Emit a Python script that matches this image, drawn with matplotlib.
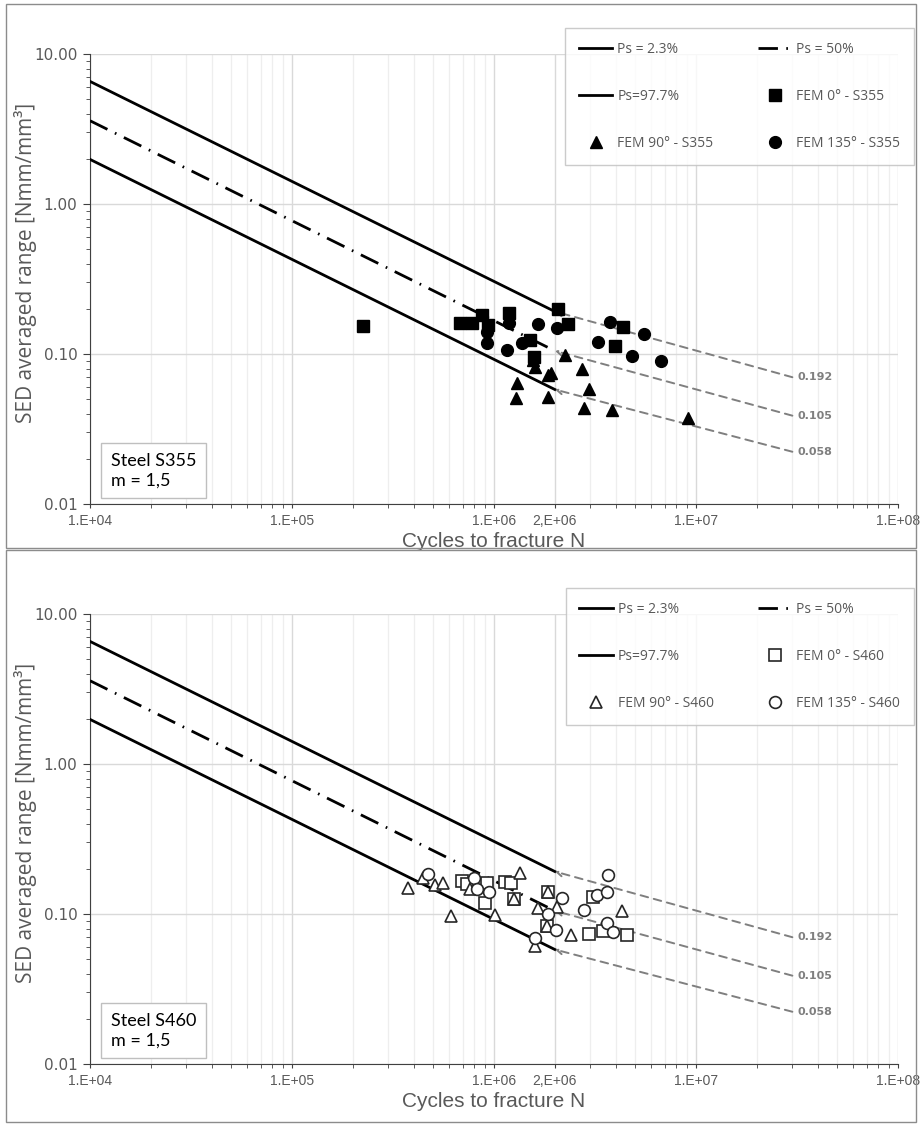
import numpy as np
import matplotlib
matplotlib.use("Agg")
import matplotlib.pyplot as plt
from matplotlib.patches import Rectangle
from matplotlib.ticker import FixedLocator, NullFormatter

# ---- data ----
m_slope = 1.5
N_ref = 2e6
design_vals = [0.192, 0.105, 0.058]   # Ps 2.3%, 50%, 97.7% at 2e6 cycles
label_tail_N = 3.0e7
label_tail_S = [0.070, 0.0388, 0.0223]

# S355
s355_0_N = [2.24e5, 6.8e5, 7.8e5, 8.7e5, 1.18e6, 1.50e6, 1.58e6, 2.08e6, 2.33e6, 3.97e6, 4.37e6, 9.3e5]
s355_0_S = [0.154, 0.160, 0.160, 0.182, 0.187, 0.124, 0.096, 0.199, 0.158, 0.113, 0.152, 0.155]
s355_90_N = [1.29e6, 1.30e6, 1.56e6, 1.60e6, 1.86e6, 1.91e6, 1.86e6, 2.24e6, 2.73e6, 2.97e6, 2.79e6, 3.85e6, 9.16e6]
s355_90_S = [0.0507, 0.0644, 0.091, 0.0815, 0.0724, 0.075, 0.0519, 0.0985, 0.079, 0.058, 0.0438, 0.0423, 0.0373]
s355_135_N = [9.27e5, 9.27e5, 1.16e6, 1.19e6, 1.37e6, 1.66e6, 2.04e6, 3.28e6, 3.75e6, 4.81e6, 5.54e6, 6.71e6]
s355_135_S = [0.118, 0.140, 0.107, 0.162, 0.119, 0.158, 0.148, 0.121, 0.164, 0.097, 0.136, 0.090]

# S460
s460_0_N = [6.92e5, 7.33e5, 9.2e5, 9.02e5, 1.13e6, 1.22e6, 1.25e6, 1.86e6, 1.84e6, 3.08e6, 2.97e6, 3.45e6, 4.54e6]
s460_0_S = [0.167, 0.158, 0.160, 0.119, 0.164, 0.162, 0.125, 0.141, 0.083, 0.130, 0.0736, 0.0774, 0.0724]
s460_90_N = [3.77e5, 4.43e5, 5.1e5, 5.61e5, 6.1e5, 7.6e5, 1.01e6, 1.35e6, 1.25e6, 1.86e6, 1.66e6, 2.06e6, 1.84e6, 1.6e6, 2.40e6, 4.31e6]
s460_90_S = [0.148, 0.173, 0.156, 0.160, 0.097, 0.146, 0.098, 0.187, 0.125, 0.141, 0.109, 0.112, 0.083, 0.0612, 0.0724, 0.104]
s460_135_N = [4.73e5, 7.96e5, 8.26e5, 9.48e5, 2.16e6, 1.86e6, 2.03e6, 1.6e6, 2.79e6, 3.24e6, 3.61e6, 3.66e6, 3.64e6, 3.87e6]
s460_135_S = [0.184, 0.175, 0.146, 0.141, 0.127, 0.100, 0.078, 0.0689, 0.107, 0.134, 0.140, 0.182, 0.0867, 0.0762]

panels = [
    dict(name="S355", filled=True,
         data=[(s355_0_N, s355_0_S), (s355_90_N, s355_90_S), (s355_135_N, s355_135_S)]),
    dict(name="S460", filled=False,
         data=[(s460_0_N, s460_0_S), (s460_90_N, s460_90_S), (s460_135_N, s460_135_S)]),
]

grey_txt = "#595959"
W, H = 924, 1124
fig = plt.figure(figsize=(W / 100, H / 100), dpi=100)

def fx(px):
    return px / W

def fy(py):
    return 1 - py / H

axes_boxes = [(90, 54, 898, 504), (90, 614, 898, 1064)]
border_boxes = [(6, 4, 916, 548), (6, 550, 916, 1122)]

for p, (x0, y0, x1, y1), (bx0, by0, bx1, by1) in zip(panels, axes_boxes, border_boxes):
    # panel frame
    fig.patches.append(Rectangle((fx(bx0), fy(by1)), fx(bx1 - bx0), (by1 - by0) / H,
                                 transform=fig.transFigure, fill=False,
                                 edgecolor="#8c8c8c", linewidth=1.0, zorder=0))
    ax = fig.add_axes([fx(x0), fy(y1), fx(x1 - x0), (y1 - y0) / H])
    ax.set_xscale("log")
    ax.set_yscale("log")
    ax.set_xlim(1e4, 1e8)
    ax.set_ylim(0.01, 10)

    # grid
    ax.set_axisbelow(True)
    ax.grid(which="major", axis="both", color="#d9d9d9", linewidth=1.0)
    ax.grid(which="minor", axis="x", color="#eeeeee", linewidth=0.9)
    for s in ["top", "right"]:
        ax.spines[s].set_visible(False)
    ax.spines["left"].set_color("#404040")
    ax.spines["bottom"].set_color("#404040")

    # ticks
    ax.xaxis.set_major_locator(FixedLocator([1e4, 1e5, 1e6, 2e6, 1e7, 1e8]))
    ax.set_xticklabels(["1.E+04", "1.E+05", "1.E+06", "2,E+06", "1.E+07", "1.E+08"],
                       fontfamily="Liberation Sans", fontsize=10, color=grey_txt)
    ax.yaxis.set_major_locator(FixedLocator([0.01, 0.1, 1, 10]))
    ax.set_yticklabels(["0.01", "0.10", "1.00", "10.00"], fontsize=11, color=grey_txt)
    ax.yaxis.set_minor_formatter(NullFormatter())
    ax.xaxis.set_minor_formatter(NullFormatter())
    ax.tick_params(which="major", length=5, color="#404040", pad=4)
    ax.tick_params(which="minor", length=3, color="#404040")
    ax.tick_params(axis="x", which="major", length=3)

    ax.set_ylabel("SED averaged range [Nmm/mm³]", fontsize=15, color=grey_txt,
                  fontfamily="Open Sans")
    ax.yaxis.set_label_coords(-0.066, 0.535)
    ax.set_xlabel("Cycles to fracture N", fontsize=15, color=grey_txt,
                  fontfamily="Liberation Sans", labelpad=3)

    # design curves
    Nl = np.logspace(4, np.log10(N_ref), 50)
    styles = ["-", (0, (7, 3, 0.6, 3)), "-"]
    h_lines = []
    for v, ls in zip(design_vals, styles):
        S = v * (Nl / N_ref) ** (-1 / m_slope)
        ln, = ax.plot(Nl, S, color="black", linewidth=2.0, linestyle=ls, zorder=3)
        h_lines.append(ln)

    # value labels with dashed arrows
    for v, ts in zip(design_vals, label_tail_S):
        ax.annotate("", xy=(N_ref, v), xytext=(label_tail_N, ts),
                    arrowprops=dict(arrowstyle="->", color="#7f7f7f", linestyle=(0, (4, 3)),
                                    linewidth=1.4, shrinkA=0, shrinkB=0), zorder=2)
        ax.text(label_tail_N * 1.06, ts, f"{v:.3f}", fontsize=8, fontweight="bold",
                color="#7f7f7f", va="center", ha="left")

    # FE data
    markers = ["s", "^", "o"]
    sizes = [8, 9, 8.5]
    names = [f"FEM 0° - {p['name']}", f"FEM 90° - {p['name']}", f"FEM 135° - {p['name']}"]
    h_pts = []
    for (Nv, Sv), mk, ms, nm in zip(p["data"], markers, sizes, names):
        if p["filled"]:
            pt, = ax.plot(Nv, Sv, linestyle="none", marker=mk, markersize=ms,
                          color="black", zorder=4, label=nm)
        else:
            pt, = ax.plot(Nv, Sv, linestyle="none", marker=mk, markersize=ms,
                          markerfacecolor="white", markeredgecolor="#262626",
                          markeredgewidth=1.2, zorder=4, label=nm)
        h_pts.append(pt)

    # legend (column-wise order)
    handles = [h_lines[0], h_lines[2], h_pts[1], h_lines[1], h_pts[0], h_pts[2]]
    labels = ["Ps = 2.3%", "Ps=97.7%", names[1], "Ps = 50%", names[0], names[2]]
    leg = fig.legend(handles, labels, loc="upper right", ncol=2,
                     bbox_to_anchor=(fx(914), fy(y0 - 26)),
                     frameon=True, fancybox=False, edgecolor="#bfbfbf",
                     prop=dict(family="Open Sans", size=10), labelcolor=grey_txt,
                     labelspacing=2.3, handlelength=2.4, handletextpad=0.35,
                     columnspacing=3.2, borderpad=1.0, borderaxespad=0)
    leg.get_frame().set_linewidth(1.0)

    # steel box
    ax.text(0.026, 0.035, f"Steel {p['name']}\nm = 1,5", transform=ax.transAxes,
            fontsize=13, color="black", fontfamily="Lato", va="bottom",
            ha="left", linespacing=1.25,
            bbox=dict(boxstyle="square,pad=0.55", facecolor="white", edgecolor="#bfbfbf",
                      linewidth=1.0), zorder=5)

fig.savefig("out.png", dpi=100)
